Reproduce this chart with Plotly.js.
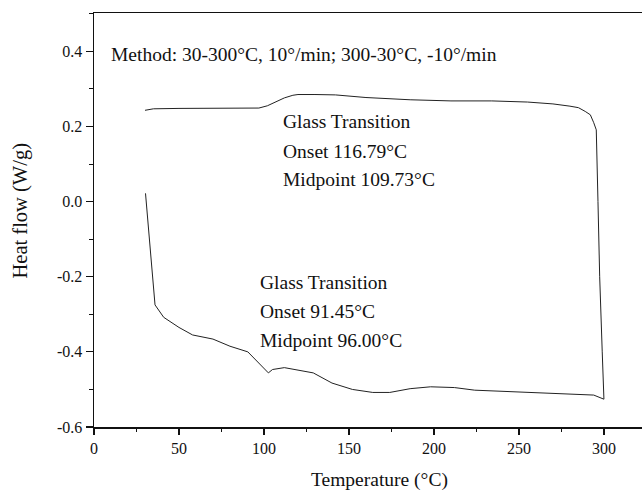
<!DOCTYPE html>
<html>
<head>
<meta charset="utf-8">
<script src="https://cdn.plot.ly/plotly-3.0.1.min.js"></script>
<style>html,body{margin:0;padding:0;background:#fff;}#chart{width:642px;height:490px;}</style>
</head>
<body>
<div id="chart"></div>
<script>
// Heating scan (30 -> 300 °C)
const heatT = [30, 35, 50, 70, 90, 97, 102, 107, 112, 117, 120, 130, 142, 160, 186, 210, 234, 255, 270, 280, 285, 289, 292, 294, 295.5];
const heatY = [0.243, 0.247, 0.248, 0.248, 0.248, 0.249, 0.255, 0.265, 0.276, 0.283, 0.285, 0.285, 0.284, 0.277, 0.271, 0.268, 0.268, 0.265, 0.260, 0.254, 0.250, 0.240, 0.231, 0.210, 0.191];
// Drop at the end of heating
const dropT = [296.5, 297.5, 299, 300];
const dropY = [0.0, -0.2, -0.4, -0.526];
// Cooling scan (300 -> 30 °C)
const coolT = [294, 270, 246, 224, 212, 198, 186, 174, 164, 152, 140, 129, 112, 105, 102.6, 90.5, 80, 70, 58, 50, 41, 35.9, 30.3];
const coolY = [-0.515, -0.511, -0.505, -0.502, -0.495, -0.493, -0.498, -0.508, -0.508, -0.500, -0.483, -0.456, -0.442, -0.447, -0.456, -0.400, -0.385, -0.366, -0.355, -0.335, -0.308, -0.275, 0.022];

const xTicks = [0, 50, 100, 150, 200, 250, 300];
const yTicks = [-0.6, -0.4, -0.2, 0.0, 0.2, 0.4];
const yTickLabels = ['-0.6', '-0.4', '-0.2', '0.0', '0.2', '0.4'];

const methodText = 'Method: 30-300°C, 10°/min; 300-30°C, -10°/min';
const upperNote = ['Glass Transition', 'Onset 116.79°C', 'Midpoint 109.73°C'];
const lowerNote = ['Glass Transition', 'Onset 91.45°C', 'Midpoint 96.00°C'];

const T = heatT.concat(dropT, coolT);
const Y = heatY.concat(dropY, coolY);

const serif = 'Liberation Serif, Times New Roman, serif';
const annFont = {family: serif, size: 19.5, color: '#111'};

const annotations = [];
annotations.push({x: 8.8, y: 0.391, xref: 'x', yref: 'y', text: methodText, showarrow: false, xanchor: 'left', yanchor: 'middle', font: annFont});
const upY = [0.213, 0.133, 0.058];
upperNote.forEach((t, i) => annotations.push({x: 110, y: upY[i], xref: 'x', yref: 'y', text: t, showarrow: false, xanchor: 'left', yanchor: 'middle', font: annFont}));
const loY = [-0.216, -0.293, -0.371];
lowerNote.forEach((t, i) => annotations.push({x: 96.5, y: loY[i], xref: 'x', yref: 'y', text: t, showarrow: false, xanchor: 'left', yanchor: 'middle', font: annFont}));
// axis titles placed as in the reference
annotations.push({x: 379, y: 480, xref: 'paper', yref: 'paper', text: 'Temperature (°C)', showarrow: false, font: {family: serif, size: 19.5, color: '#111'}, xanchor: 'center', yanchor: 'middle'});
annotations.push({x: 20, y: 211.5, xref: 'paper', yref: 'paper', text: 'Heat flow (W/g)', textangle: -90, showarrow: false, font: {family: serif, size: 20.5, color: '#111'}, xanchor: 'center', yanchor: 'middle'});

// convert pixel positions of the axis-title annotations to paper fractions
const L = 94, R = 0, Tm = 13, B = 63, W = 642, H = 490;
const pw = W - L - R, ph = H - Tm - B;
annotations.forEach(a => {
  if (a.xref === 'paper') {
    a.x = (a.x - L) / pw;
    a.y = (H - B - a.y) / ph;
  }
});

const trace = {
  x: T, y: Y, type: 'scatter', mode: 'lines',
  line: {color: '#222', width: 1},
  hoverinfo: 'skip'
};

const layout = {
  width: W, height: H,
  margin: {l: L, r: R, t: Tm, b: B},
  paper_bgcolor: '#fff', plot_bgcolor: '#fff',
  showlegend: false,
  font: {family: serif, size: 16, color: '#111'},
  xaxis: {
    range: [0, 322.4], tickvals: xTicks, ticktext: xTicks.map(String),
    ticks: 'outside', ticklen: 6, tickwidth: 1.2, tickcolor: '#111',
    showline: true, linecolor: '#111', linewidth: 1.5, mirror: true,
    showgrid: false, zeroline: false,
    tickfont: {family: serif, size: 16, color: '#111'},
    minor: {dtick: 25, tick0: 0, ticks: 'outside', ticklen: 3.5, tickwidth: 1, tickcolor: '#111'}
  },
  yaxis: {
    range: [-0.6, 0.502], tickvals: yTicks, ticktext: yTickLabels,
    ticks: 'outside', ticklen: 7, tickwidth: 1.2, tickcolor: '#111',
    showline: true, linecolor: '#111', linewidth: 1.5, mirror: true,
    showgrid: false, zeroline: false,
    tickfont: {family: serif, size: 16, color: '#111'},
    minor: {dtick: 0.1, tick0: 0, ticks: 'outside', ticklen: 3.5, tickwidth: 1, tickcolor: '#111'}
  },
  annotations: annotations
};

Plotly.newPlot('chart', [trace], layout, {staticPlot: true, displayModeBar: false});
</script>
</body>
</html>
